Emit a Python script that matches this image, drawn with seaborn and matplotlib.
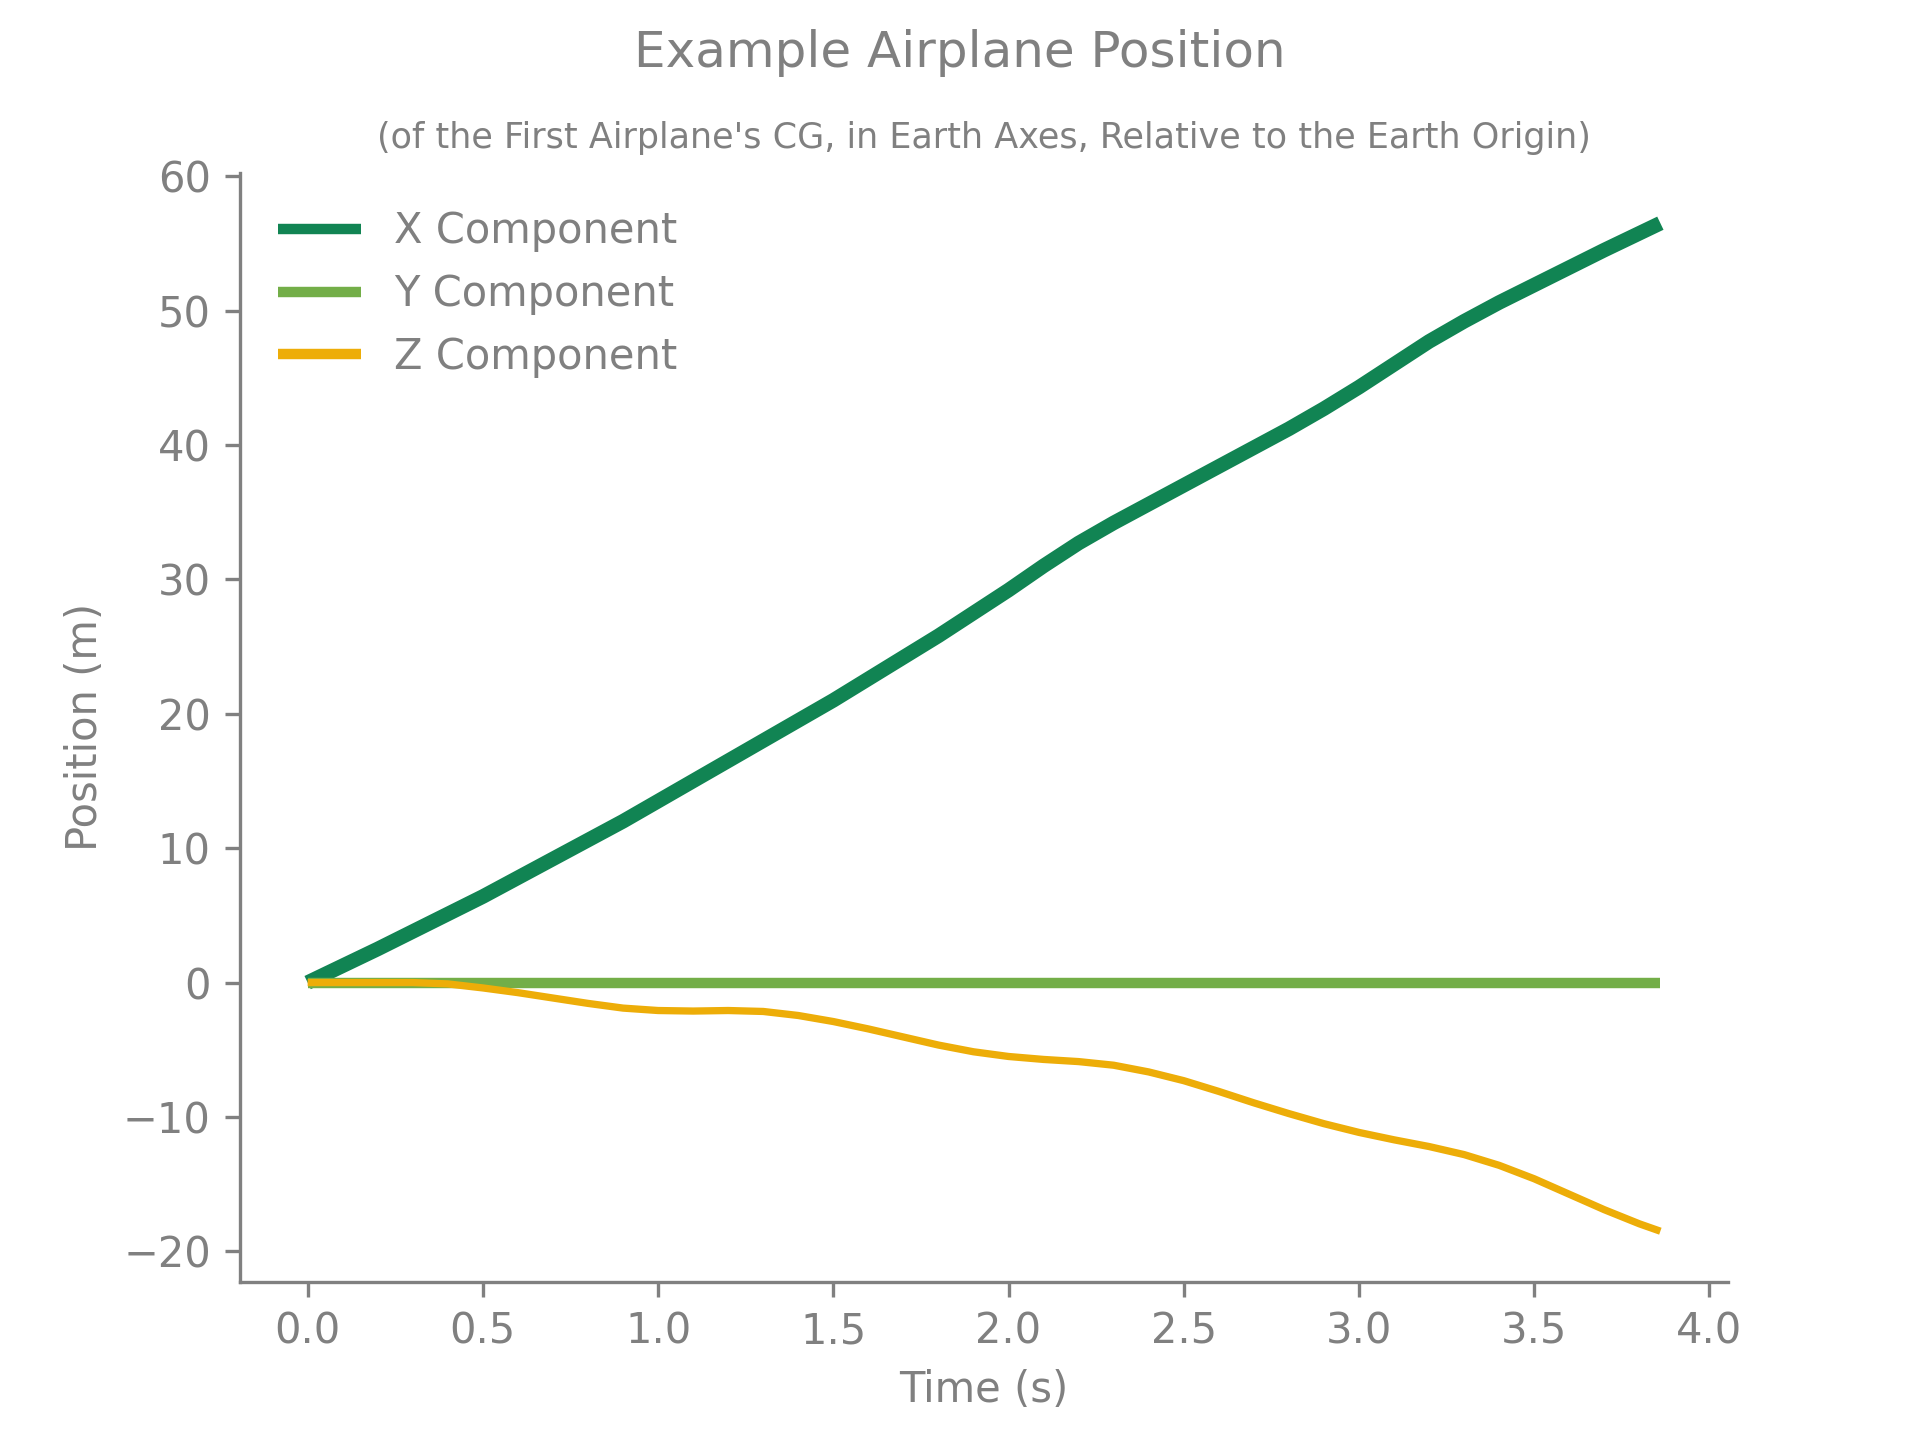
import numpy as np
import pandas as pd
import matplotlib
matplotlib.use("Agg")
import matplotlib.pyplot as plt
import seaborn as sns

# ---- data ----
time_s = [0.0, 0.1, 0.2, 0.3, 0.4, 0.5, 0.6, 0.7, 0.8, 0.9,
          1.0, 1.1, 1.2, 1.3, 1.4, 1.5, 1.6, 1.7, 1.8, 1.9,
          2.0, 2.1, 2.2, 2.3, 2.4, 2.5, 2.6, 2.7, 2.8, 2.9,
          3.0, 3.1, 3.2, 3.3, 3.4, 3.5, 3.6, 3.7, 3.8, 3.86]
x_component = [0.0, 1.25, 2.5, 3.8, 5.1, 6.4, 7.8, 9.2, 10.6, 12.0,
               13.5, 15.0, 16.5, 18.0, 19.5, 21.0, 22.6, 24.2, 25.8, 27.5,
               29.2, 31.0, 32.7, 34.2, 35.6, 37.0, 38.4, 39.8, 41.2, 42.7,
               44.3, 46.0, 47.7, 49.2, 50.6, 51.9, 53.2, 54.5, 55.75, 56.5]
y_component = [0.0] * 40
z_component = [0.0, 0.0, 0.0, 0.0, -0.1, -0.4, -0.75, -1.15, -1.55, -1.9,
               -2.08, -2.12, -2.08, -2.15, -2.45, -2.9, -3.45, -4.05, -4.65, -5.15,
               -5.5, -5.72, -5.88, -6.15, -6.65, -7.3, -8.1, -8.95, -9.75, -10.5,
               -11.15, -11.7, -12.2, -12.8, -13.6, -14.6, -15.75, -16.9, -17.95, -18.5]
series_labels = ["X Component", "Y Component", "Z Component"]
title = "Example Airplane Position"
subtitle = "(of the First Airplane's CG, in Earth Axes, Relative to the Earth Origin)"
x_label = "Time (s)"
y_label = "Position (m)"

df = pd.DataFrame({"t": time_s, "X": x_component, "Y": y_component, "Z": z_component})

GRAY = "#808080"
sns.set_style("ticks")
plt.rcParams.update({
    "font.family": ["DejaVu Sans"],
    "text.color": GRAY,
    "axes.labelcolor": GRAY,
    "axes.edgecolor": GRAY,
    "xtick.color": GRAY,
    "ytick.color": GRAY,
    "xtick.labelcolor": GRAY,
    "ytick.labelcolor": GRAY,
    "axes.linewidth": 0.8,
    "xtick.major.width": 0.8,
    "ytick.major.width": 0.8,
    "xtick.major.size": 3.5,
    "ytick.major.size": 3.5,
    "xtick.labelsize": 10,
    "ytick.labelsize": 10,
    "axes.labelsize": 10,
    "legend.fontsize": 10,
})

fig, ax = plt.subplots(figsize=(6.4, 4.8), dpi=300)

colors = ["#118453", "#73AE48", "#EDAD08"]
widths = [3.5, 2.5, 1.75]
for col, lab, c, w in zip(["X", "Y", "Z"], series_labels, colors, widths):
    sns.lineplot(data=df, x="t", y=col, ax=ax, color=c, linewidth=w, label=lab,
                 solid_capstyle="butt", solid_joinstyle="round")

sns.despine(ax=ax)
ax.set_xlabel(x_label)
ax.set_ylabel(y_label)
ax.set_xticks(np.arange(0, 4.01, 0.5))
ax.set_yticks(np.arange(-20, 61, 10))

leg = ax.legend(loc="upper left", frameon=False)
for h in leg.get_lines():
    h.set_linewidth(2.5)
    h.set_solid_capstyle("butt")
for t in leg.get_texts():
    t.set_color(GRAY)

fig.suptitle(title, fontsize=12, color=GRAY)
ax.set_title(subtitle, fontsize=8.4, color=GRAY)

fig.savefig("out.png", dpi=300)
